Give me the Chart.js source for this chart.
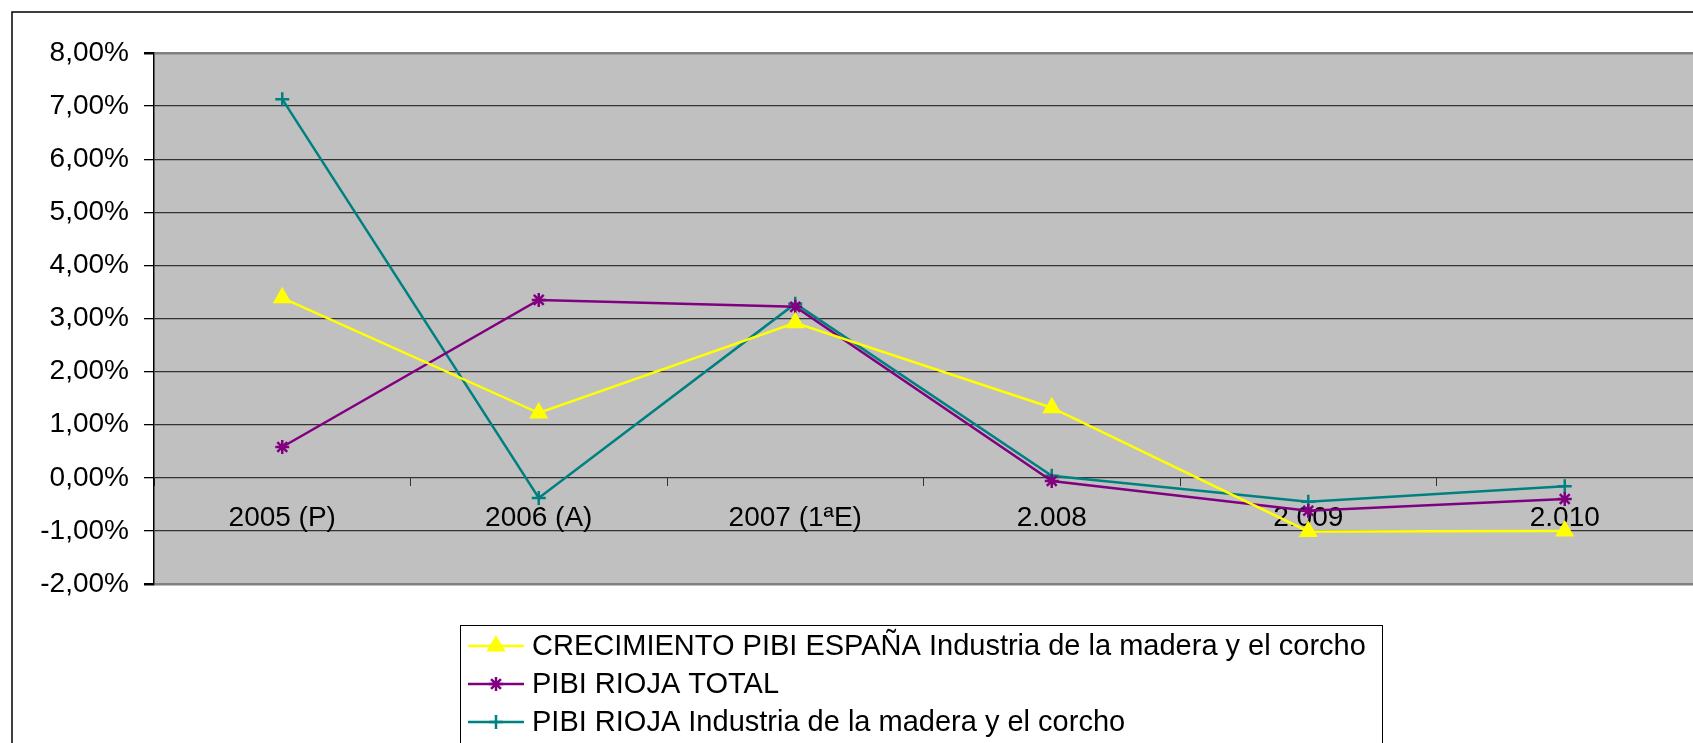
<!DOCTYPE html>
<html>
<head>
<meta charset="utf-8">
<script src="https://cdn.jsdelivr.net/npm/chart.js"></script>
<style>
  body { margin: 0; background: #fff; }
  #caja { width: 1693px; height: 743px; }
</style>
</head>
<body>
<div id="caja"><canvas id="grafica"></canvas></div>
<script>
// datos (porcentajes)
const categorias = ['2005 (P)', '2006 (A)', '2007 (1ªE)', '2.008', '2.009', '2.010'];
const pibiEspana = [3.39, 1.22, 2.92, 1.32, -1.01, -1.00];
const pibiRiojaTotal = [0.58, 3.35, 3.22, -0.06, -0.62, -0.40];
const pibiRiojaMadera = [7.13, -0.38, 3.28, 0.04, -0.45, -0.16];
const yMin = -2, yMax = 8, yPaso = 1;

const fuente = "'Liberation Sans', Arial, sans-serif";

// fondo blanco, marco exterior y zona gris del grafico
const fondo = {
  id: 'fondo',
  beforeDraw(chart) {
    const ctx = chart.ctx, a = chart.chartArea;
    ctx.save();
    ctx.fillStyle = '#fff';
    ctx.fillRect(0, 0, chart.width, chart.height);
    ctx.strokeStyle = '#000';
    ctx.lineWidth = 1.5;
    ctx.beginPath();
    ctx.moveTo(12, chart.height + 2);
    ctx.lineTo(12, 12);
    ctx.lineTo(chart.width + 2, 12);
    ctx.stroke();
    ctx.fillStyle = '#c0c0c0';
    ctx.fillRect(a.left, a.top, a.right - a.left, a.bottom - a.top);
    ctx.restore();
  }
};

// leyenda en columna con linea + marcador, como la de Excel
const leyenda = {
  id: 'leyenda',
  afterDraw(chart) {
    const ctx = chart.ctx;
    const filas = [646, 684, 722];
    ctx.save();
    ctx.strokeStyle = '#000';
    ctx.lineWidth = 1;
    ctx.strokeRect(460.5, 625.5, 922, 130);
    chart.data.datasets.forEach(function(ds, i) {
      const y = filas[i];
      ctx.strokeStyle = ds.borderColor;
      ctx.lineWidth = ds.borderWidth;
      ctx.beginPath();
      ctx.moveTo(468, y);
      ctx.lineTo(524, y);
      ctx.stroke();
      ctx.fillStyle = ds.pointBackgroundColor;
      ctx.strokeStyle = ds.pointBorderColor;
      ctx.lineWidth = ds.pointBorderWidth;
      Chart.helpers.drawPoint(ctx, {pointStyle: ds.pointStyle, radius: ds.pointRadius, rotation: 0, borderWidth: ds.pointBorderWidth}, 496, y);
      ctx.fillStyle = '#000';
      ctx.font = '29px ' + fuente;
      ctx.textBaseline = 'middle';
      ctx.fillText(ds.label, 532, y + 1);
    });
    ctx.restore();
  }
};

function serie(label, datos, color, estilo, radio) {
  return {
    label: label,
    data: datos,
    borderColor: color,
    backgroundColor: color,
    borderWidth: 2.5,
    tension: 0,
    pointStyle: estilo,
    pointRadius: radio,
    pointHoverRadius: radio,
    pointBackgroundColor: color,
    pointBorderColor: color,
    pointBorderWidth: 2.5
  };
}

const ctx = document.getElementById('grafica').getContext('2d');
new Chart(ctx, {
  type: 'line',
  data: {
    labels: categorias,
    datasets: [
      serie('CRECIMIENTO PIBI ESPAÑA Industria de la madera y el corcho', pibiEspana, '#ffff00', 'triangle', 8.5),
      serie('PIBI RIOJA TOTAL', pibiRiojaTotal, '#800080', 'star', 7),
      serie('PIBI RIOJA Industria de la madera y el corcho', pibiRiojaMadera, '#008080', 'cross', 7)
    ]
  },
  options: {
    responsive: true,
    maintainAspectRatio: false,
    animation: false,
    layout: { autoPadding: false, padding: { left: 0, top: 53, right: 0, bottom: 159 } },
    plugins: {
      legend: { display: false },
      tooltip: { enabled: false }
    },
    scales: {
      x: {
        type: 'category',
        position: { y: 0 },
        offset: true,
        afterFit: function(s) { s.paddingLeft = 0; s.paddingRight = 0; },
        grid: { display: true, drawOnChartArea: false, drawTicks: true, tickLength: 8, tickColor: '#333', offset: true },
        border: { display: false },
        ticks: { color: '#000', font: { family: fuente, size: 28 }, padding: 16, maxRotation: 0, autoSkip: false }
      },
      y: {
        min: yMin,
        max: yMax,
        afterFit: function(s) { s.width = 154; },
        ticks: {
          stepSize: yPaso,
          color: '#000',
          font: { family: fuente, size: 28 },
          padding: 15,
          callback: function(v) { return v.toFixed(2).replace('.', ',') + '%'; }
        },
        grid: {
          color: function(c) { return (c.tick && (c.tick.value === yMax || c.tick.value === yMin)) ? '#808080' : '#333'; },
          lineWidth: function(c) { return (c.tick && (c.tick.value === yMax || c.tick.value === yMin)) ? 2.5 : 1.3; },
          tickLength: 10,
          tickColor: '#000'
        },
        border: { display: true, color: '#000', width: 1.5 }
      }
    }
  },
  plugins: [fondo, leyenda]
});
</script>
</body>
</html>
